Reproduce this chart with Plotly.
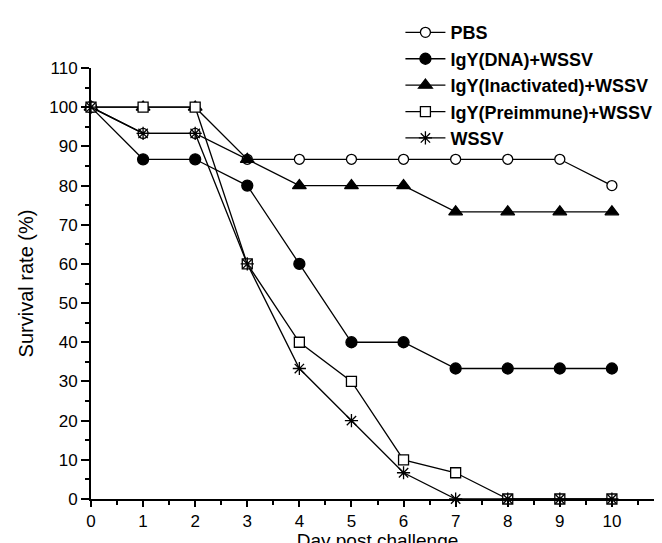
import plotly.graph_objects as go

days = [0, 1, 2, 3, 4, 5, 6, 7, 8, 9, 10]
pbs = [100, 93.3, 93.3, 86.7, 86.7, 86.7, 86.7, 86.7, 86.7, 86.7, 80]
igy_dna = [100, 86.7, 86.7, 80, 60, 40, 40, 33.3, 33.3, 33.3, 33.3]
igy_inact = [100, 100, 100, 86.7, 80, 80, 80, 73.3, 73.3, 73.3, 73.3]
igy_pre = [100, 100, 100, 60, 40, 30, 10, 6.7, 0, 0, 0]
wssv = [100, 93.3, 93.3, 60, 33.3, 20, 6.7, 0, 0, 0, 0]

series_names = ["PBS", "IgY(DNA)+WSSV", "IgY(Inactivated)+WSSV",
                "IgY(Preimmune)+WSSV", "WSSV"]
series_values = [pbs, igy_dna, igy_inact, igy_pre, wssv]
styles = [
    dict(symbol="circle", color="white", size=10),
    dict(symbol="circle", color="black", size=11),
    dict(symbol="triangle-up", color="black", size=12),
    dict(symbol="square", color="white", size=10),
    dict(symbol="asterisk-open", color="black", size=11),
]

fig = go.Figure()
for name, vals, st in zip(series_names, series_values, styles):
    fig.add_trace(go.Scatter(
        x=days, y=vals, name=name, mode="lines+markers",
        line=dict(color="black", width=1.3),
        marker=dict(symbol=st["symbol"], size=st["size"], color=st["color"],
                    line=dict(color="black", width=1.3)),
        cliponaxis=False,
    ))

fig.update_layout(
    width=662, height=543,
    margin=dict(l=83, r=6, t=60, b=52),
    paper_bgcolor="white", plot_bgcolor="white",
    font=dict(family="Liberation Sans, Arial, sans-serif", color="black", size=17),
    showlegend=True,
    legend=dict(x=0.54, xanchor="left", y=1.125, yanchor="top",
                font=dict(size=18, family="Liberation Sans, Arial, sans-serif", weight="bold"),
                bgcolor="rgba(0,0,0,0)", tracegroupgap=0, itemwidth=40),
    xaxis=dict(range=[0, 11], tickmode="array", tickvals=list(range(12)),
               ticks="outside", ticklen=6, tickwidth=1.5, tickcolor="black",
               showline=True, linecolor="black", linewidth=2, showgrid=False,
               zeroline=False, tickfont=dict(size=17), ticklabeloverflow="allow",
               automargin=False,
               minor=dict(dtick=0.5, ticks="outside", ticklen=4, tickwidth=1.5, tickcolor="black"),
               title=dict(text="Day post challenge", font=dict(size=19), standoff=2)),
    yaxis=dict(range=[0, 110], tickmode="array", tickvals=list(range(0, 111, 10)),
               ticks="outside", ticklen=8, tickwidth=1.5, tickcolor="black",
               showline=True, linecolor="black", linewidth=2, showgrid=False,
               zeroline=False, tickfont=dict(size=17), ticklabeloverflow="allow",
               automargin=False,
               minor=dict(dtick=5, ticks="outside", ticklen=4, tickwidth=1.5, tickcolor="black"),
               title=dict(text="Survival rate (%)", font=dict(size=20), standoff=10)),
)

fig.write_html("out.html")
